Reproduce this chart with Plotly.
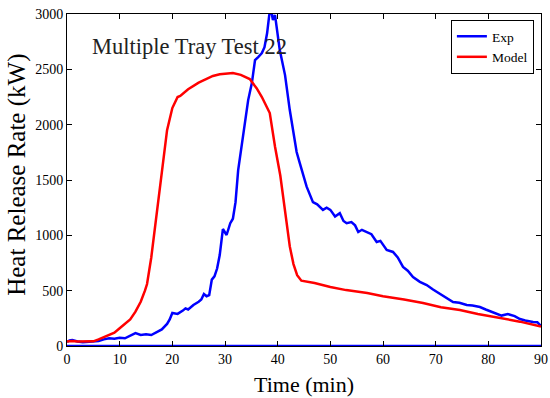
import plotly.graph_objects as go

# Experimental data (time in min, HRR in kW)
exp_time = [0, 0.5, 1, 1.5, 2, 3, 4, 5, 6, 7, 8, 9, 10, 11, 12, 13, 14, 15, 16, 17,
            18, 19, 19.5, 20, 21, 22, 22.5, 23, 24, 25, 25.5, 26, 26.5, 27, 27.5, 28, 28.5, 29, 29.6, 30.3,
            31, 31.5, 32, 32.5, 33.2, 33.8, 34.4, 35.1, 35.7, 36.3, 37, 37.5, 38, 38.4, 38.7, 39.1, 39.5, 40.4, 41.4, 42.3,
            43.6, 44.2, 44.8, 45.5, 46.7, 47.5, 48.6, 49.3, 50, 50.9, 51.8, 52.5, 53.1, 54, 54.7, 55.3, 56, 56.9, 57.8, 58.8,
            59.5, 60.7, 61.9, 62.8, 63.8, 64.7, 65.7, 67, 68.3, 69.5, 70.5, 71.4, 72.3, 73.3, 74.5, 75.9, 77, 78.4, 79.5, 80.5,
            81.6, 82.5, 83.7, 85, 86, 87, 88.5, 89.3, 90]
exp_hrr = [36, 50, 54, 45, 40, 35, 38, 40, 45, 60, 70, 65, 75, 70, 90, 117, 100, 105, 99, 125,
           150, 200, 240, 298, 290, 320, 340, 330, 370, 400, 420, 470, 450, 460, 600, 630, 700, 822, 1057, 1003,
           1110, 1150, 1300, 1590, 1834, 2060, 2222, 2376, 2584, 2611, 2647, 2700, 2828, 2990, 3050, 2945, 2990, 2674, 2448, 2132,
           1753, 1653, 1560, 1440, 1300, 1280, 1230, 1250, 1230, 1170, 1200, 1130, 1110, 1120, 1090, 1030, 1050, 1030, 1010, 940,
           950, 867, 850, 800, 715, 680, 623, 580, 551, 510, 480, 460, 430, 398, 390, 370, 365, 352, 330, 310,
           289, 275, 289, 270, 244, 230, 217, 215, 180]
# Exp baseline segment along zero
exp_base_time = [0, 90]
exp_base_hrr = [0, 0]

# Model data
model_time = [0, 1, 2, 3, 4, 5, 6, 7, 8, 9, 10, 11, 12, 13, 14, 14.8, 15.2, 16, 17, 18,
              19, 20, 21, 21.5, 23, 25, 27.7, 29, 31.5, 33, 34.7, 36, 37, 38.5, 39.5, 40.5, 41.5, 42.3, 43, 43.7,
              44.5, 47, 50, 53, 57, 60, 64, 67.6, 71, 74.6, 78, 82, 86, 90]
model_hrr = [40, 45, 40, 40, 40, 42, 60, 80, 100, 120, 160, 200, 240, 310, 400, 500, 560, 800, 1200, 1600,
             1950, 2150, 2250, 2260, 2320, 2380, 2440, 2455, 2466, 2450, 2412, 2330, 2250, 2105, 1800, 1540, 1200, 900, 740, 640,
             590, 570, 533, 505, 479, 450, 420, 388, 350, 325, 290, 255, 220, 175]

x_ticks = [0, 10, 20, 30, 40, 50, 60, 70, 80, 90]
y_ticks = [0, 500, 1000, 1500, 2000, 2500, 3000]

FONT = "Liberation Serif, Times New Roman, serif"

fig = go.Figure()
fig.add_trace(go.Scatter(
    x=exp_time + [None] + exp_base_time,
    y=exp_hrr + [None] + exp_base_hrr,
    mode="lines", name="Exp", line=dict(color="#0000ff", width=2.5),
    connectgaps=False,
))
fig.add_trace(go.Scatter(
    x=model_time, y=model_hrr, mode="lines", name="Model",
    line=dict(color="#ff0000", width=2.5),
))

fig.add_annotation(
    x=4.3, y=2710, xref="x", yref="y", text="Multiple Tray Test 22",
    showarrow=False, xanchor="left", yanchor="middle",
    font=dict(family=FONT, size=22.5, color="#222222"),
)
# Axis titles as annotations (paper coords)
fig.add_annotation(
    x=0.5, y=-0.072, xref="paper", yref="paper", text="Time (min)",
    showarrow=False, xanchor="center", yanchor="top",
    font=dict(family=FONT, size=22, color="black"),
)
fig.add_annotation(
    x=-0.106, y=0.515, xref="paper", yref="paper", text="Heat Release Rate (kW)",
    showarrow=False, xanchor="center", yanchor="middle", textangle=-90,
    font=dict(family=FONT, size=25, color="black"),
)

axis_common = dict(
    showgrid=False, zeroline=False, showline=True, linecolor="black", linewidth=1,
    mirror="ticks", ticks="inside", ticklen=5, tickcolor="black", tickwidth=1,
    tickfont=dict(family=FONT, size=14, color="black"), automargin=False,
)
fig.update_xaxes(range=[0, 90], tickvals=x_ticks, ticktext=[str(v) for v in x_ticks], **axis_common)
fig.update_yaxes(range=[0, 3000], tickvals=y_ticks, ticktext=[str(v) for v in y_ticks], **axis_common)

fig.update_layout(
    width=550, height=398,
    margin=dict(l=67, r=9, t=14, b=52, autoexpand=False),
    plot_bgcolor="white", paper_bgcolor="white",
    showlegend=True,
    legend=dict(x=0.985, y=0.982, xanchor="right", yanchor="top",
                bordercolor="black", borderwidth=1, bgcolor="white",
                font=dict(family=FONT, size=13.5, color="black"),
                tracegroupgap=0, itemwidth=30),
)

fig.write_html("out.html", config={"displayModeBar": False},
               post_script="document.body.style.margin='0px';document.body.style.overflow='hidden';")
